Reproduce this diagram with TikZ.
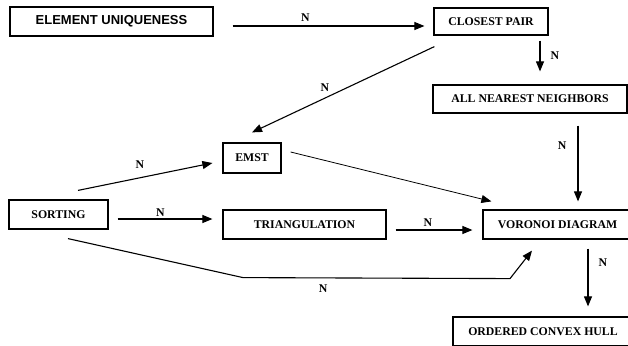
\documentclass[tikz,border=0pt]{standalone}
\usepackage{fontspec}
\setmainfont{Liberation Serif}
\newfontfamily\eusans{Liberation Sans}
\usepackage{tikz}
\usetikzlibrary{arrows.meta}

\begin{document}
\begin{tikzpicture}[x=1pt,y=-1pt,
  font=\fontsize{11.8}{14}\selectfont\bfseries,
  box/.style={draw, line width=1.2pt, inner sep=0pt, minimum height=29pt},
  arr/.style={line width=1.1pt, -{Triangle[length=10pt,width=8pt]}},
  lbl/.style={inner sep=1pt}]
\useasboundingbox (0,0) rectangle (628,345);
\clip (0,0) rectangle (628,345);

% problem boxes
\node[box, minimum width=203pt, font=\eusans\bfseries\fontsize{13}{15}\selectfont] (eu) at (111.5,21.5) {ELEMENT UNIQUENESS};
\node[box, minimum width=114pt, minimum height=27pt] (cp) at (491,21.5) {CLOSEST PAIR};
\node[box, minimum width=194pt, minimum height=28pt] (ann) at (530,99) {ALL NEAREST NEIGHBORS};
\node[box, minimum width=58pt, minimum height=30pt] (emst) at (252,158) {EMST};
\node[box, minimum width=99pt] (sort) at (58.5,214.5) {SORTING};
\node[box, minimum width=163pt] (tri) at (304.5,224.5) {TRIANGULATION};
\node[box, minimum width=149pt] (vor) at (557.5,224.5) {VORONOI DIAGRAM};
\node[box, minimum width=180pt] (och) at (543,331.5) {ORDERED CONVEX HULL};

% reductions
\draw[arr] ([shift={(19pt,-4.5pt)}]eu.east) -- node[lbl, pos=.38, above=3pt] {N} ([shift={(-9pt,-4.5pt)}]cp.west);
\draw[arr] ([shift={(49pt,-5pt)}]cp.south) -- node[lbl, pos=.5, right=9pt] {N} ([shift={(10pt,13pt)}]ann.north);
\draw[arr] ([shift={(1pt,-11pt)}]cp.south west) -- node[lbl, pos=.6, above=5pt] {N} ([shift={(0pt,10pt)}]emst.north);
\draw[arr] ([shift={(48pt,-12pt)}]ann.south) -- node[lbl, pos=.26, left=10pt] {N} ([shift={(20.5pt,8pt)}]vor.north);
\draw[arr] ([shift={(19.5pt,9pt)}]sort.north) -- node[lbl, pos=.46, above=8pt] {N} ([shift={(-10pt,-5pt)}]emst.west);
\draw[arr] ([shift={(9pt,-4.5pt)}]sort.east) -- node[lbl, pos=.45, above=1pt] {N} ([shift={(-10pt,5.5pt)}]tri.west);
\draw[arr, line width=0.8pt] ([shift={(9pt,6pt)}]emst.east) -- ([shift={(9pt,8pt)}]vor.north west);
\draw[arr] ([shift={(9pt,-5.5pt)}]tri.east) -- node[lbl, pos=.42, above=2pt] {N} ([shift={(-10pt,-5.5pt)}]vor.west);
\draw[arr] ([shift={(9.5pt,-9pt)}]sort.south) -- ++(175,39) -- node[lbl, pos=.3, below=5.5pt] {N} ++(267,1) -- ([shift={(-25.5pt,-11pt)}]vor.south);
\draw[arr] ([shift={(30.5pt,-9pt)}]vor.south) -- node[lbl, pos=.24, right=9pt] {N} ([shift={(45pt,10pt)}]och.north);

\end{tikzpicture}
\end{document}
